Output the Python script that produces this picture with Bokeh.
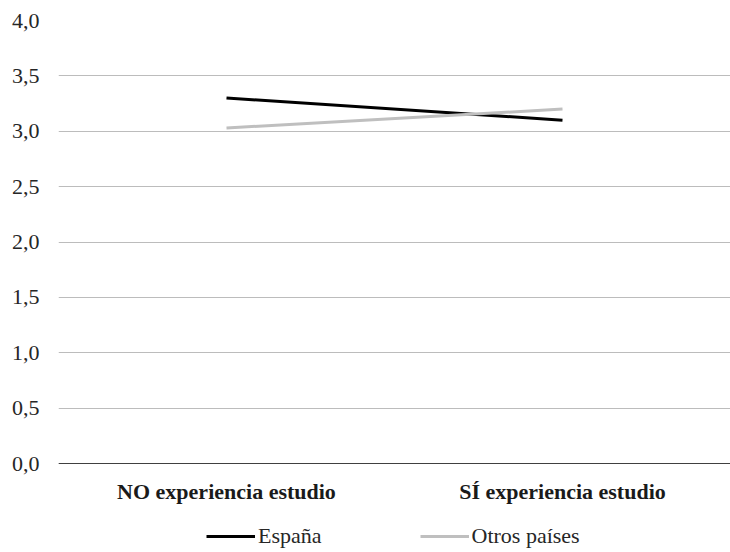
from bokeh.plotting import figure
from bokeh.models import Legend, LegendItem, FixedTicker
from bokeh.embed import file_html
from bokeh.resources import INLINE

categories = ["NO experiencia estudio", "SÍ experiencia estudio"]
espana = [3.30, 3.10]
otros = [3.03, 3.20]
series_names = ["España", "Otros países"]
y_ticks = [0, 0.5, 1, 1.5, 2, 2.5, 3, 3.5, 4]
y_tick_labels = ["0,0", "0,5", "1,0", "1,5", "2,0", "2,5", "3,0", "3,5", "4,0"]

FONT = "Liberation Serif"

# frame: y=4 at 20px, y=0 at 463px, frame reaches the bottom (552px)
px_per_unit = (463 - 20) / 4.0
y_start = -(552 - 463) / px_per_unit

p = figure(x_range=categories, y_range=(y_start, 4), width=730, height=552,
           output_backend="svg", toolbar_location=None,
           min_border_left=58, min_border_right=0, min_border_top=20, min_border_bottom=0)
p.outline_line_color = None
p.background_fill_color = "white"

r1 = p.line(categories, espana, line_color="black", line_width=3)
r2 = p.line(categories, otros, line_color="#bfbfbf", line_width=3)

p.xgrid.grid_line_color = None
p.ygrid.grid_line_color = "#bcbcbc"
p.ygrid.grid_line_width = 1

p.yaxis.ticker = FixedTicker(ticks=y_ticks)
p.yaxis.major_label_overrides = {t: l for t, l in zip(y_ticks, y_tick_labels)}
p.yaxis.axis_line_color = None
p.yaxis.major_tick_line_color = None
p.yaxis.minor_tick_line_color = None
p.yaxis.major_tick_out = 0
p.yaxis.minor_tick_out = 0
p.yaxis.major_label_standoff = 19
p.yaxis.major_label_text_font = FONT
p.yaxis.major_label_text_font_size = "22px"
p.yaxis.major_label_text_color = "#262626"

p.xaxis.fixed_location = 0
p.xaxis.axis_line_color = "#404040"
p.xaxis.axis_line_width = 1
p.xaxis.major_tick_line_color = None
p.xaxis.minor_tick_line_color = None
p.xaxis.major_tick_out = 0
p.xaxis.minor_tick_out = 0
p.xaxis.major_label_standoff = 15
p.xaxis.major_label_text_font = FONT
p.xaxis.major_label_text_font_size = "22px"
p.xaxis.major_label_text_font_style = "bold"
p.xaxis.major_label_text_color = "#1a1a1a"

legend = Legend(items=[LegendItem(label=series_names[0], renderers=[r1]),
                       LegendItem(label=series_names[1], renderers=[r2])],
                orientation="horizontal", location=(148, 3),
                border_line_color=None, background_fill_alpha=0,
                padding=0, margin=0, spacing=98, glyph_width=49, glyph_height=24,
                label_height=24, label_standoff=3, label_text_font=FONT,
                label_text_font_size="22px", label_text_color="#262626")
p.add_layout(legend, "center")

open("out.html", "w").write(file_html(p, INLINE))
